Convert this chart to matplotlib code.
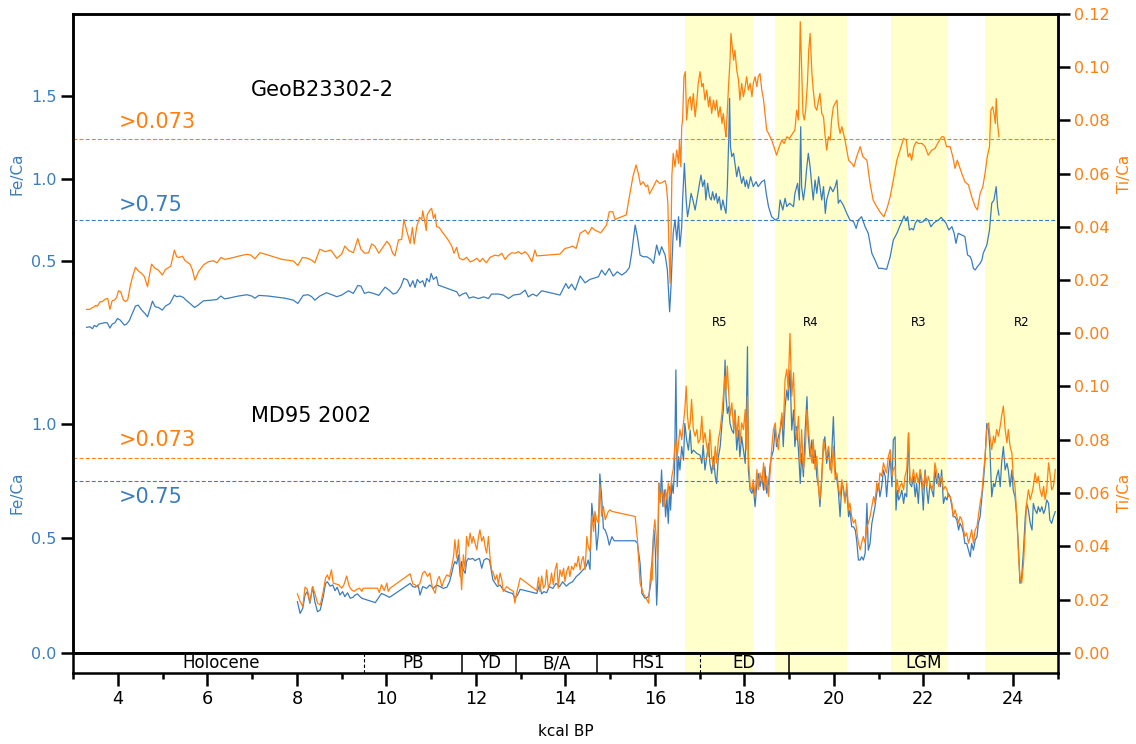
import matplotlib
matplotlib.use("Agg")
import matplotlib.pyplot as plt

plt.rcParams["font.family"] = "DejaVu Sans"

BLUE = "#3a7dbf"
ORANGE = "#ff7f0e"
YELLOW = "#ffffcc"

# ---- GeoB23302-2 (top panel) ----
geo_age_fe = [3.30, 3.37, 3.43, 3.47, 3.52, 3.57, 3.63, 3.69, 3.76, 3.82, 3.87, 3.93, 3.99, 4.05, 4.10,
              4.14, 4.19, 4.25, 4.32, 4.39, 4.45, 4.53, 4.60, 4.66, 4.72, 4.77, 4.83, 4.90, 4.99, 5.06,
              5.16, 5.26, 5.31, 5.38, 5.46, 5.52, 5.61, 5.71, 5.79, 5.91, 6.09, 6.21, 6.30, 6.38, 6.47,
              6.69, 6.88, 6.99, 7.06, 7.15, 7.36, 7.73, 7.92, 8.02, 8.07, 8.14, 8.25, 8.33, 8.40, 8.51,
              8.66, 8.78, 8.89, 9.00, 9.15, 9.26, 9.36, 9.43, 9.51, 9.60, 9.71, 9.83, 9.97, 10.06, 10.15,
              10.23, 10.32, 10.39, 10.47, 10.53, 10.59, 10.64, 10.69, 10.75, 10.81, 10.86, 10.90, 10.96,
              11.00, 11.05, 11.12, 11.16, 11.57, 11.63, 11.70, 11.78, 11.85, 11.94, 12.06, 12.17, 12.28,
              12.35, 12.50, 12.61, 12.73, 12.84, 12.99, 13.10, 13.17, 13.27, 13.36, 13.47, 13.66, 13.88,
              14.01, 14.07, 14.14, 14.22, 14.33, 14.44, 14.55, 14.74, 14.81, 14.89, 14.98, 15.07, 15.16,
              15.26, 15.36, 15.43, 15.48, 15.56, 15.61, 15.67, 15.74, 15.82, 15.91, 15.97, 16.04, 16.10,
              16.15, 16.23, 16.28, 16.33, 16.36, 16.41, 16.45, 16.49, 16.53, 16.56, 16.60, 16.62, 16.66,
              16.70, 16.73, 16.77, 16.81, 16.85, 16.90, 16.95, 16.99, 17.03, 17.07, 17.11, 17.14, 17.18,
              17.22, 17.26, 17.29, 17.33, 17.37, 17.40, 17.44, 17.48, 17.52, 17.55, 17.59, 17.62, 17.65,
              17.67, 17.69, 17.72, 17.76, 17.79, 17.83, 17.87, 17.90, 17.94, 17.98, 18.02, 18.05, 18.09,
              18.14, 18.20, 18.26, 18.31, 18.39, 18.45, 18.49, 18.54, 18.61, 18.69, 18.76, 18.80, 18.86,
              18.91, 18.95, 19.01, 19.10, 19.13, 19.19, 19.23, 19.26, 19.28, 19.32, 19.36, 19.39, 19.43,
              19.47, 19.51, 19.54, 19.58, 19.62, 19.66, 19.69, 19.73, 19.77, 19.81, 19.84, 19.88, 19.92,
              19.98, 20.03, 20.07, 20.10, 20.14, 20.21, 20.29, 20.36, 20.44, 20.50, 20.55, 20.62, 20.70,
              20.77, 20.85, 20.92, 21.00, 21.07, 21.18, 21.26, 21.33, 21.41, 21.47, 21.52, 21.57, 21.61,
              21.65, 21.69, 21.74, 21.78, 21.82, 21.87, 21.93, 22.00, 22.06, 22.11, 22.17, 22.23, 22.28,
              22.34, 22.40, 22.45, 22.51, 22.57, 22.64, 22.69, 22.73, 22.78, 22.86, 22.93, 22.99, 23.05,
              23.08, 23.12, 23.16, 23.21, 23.27, 23.31, 23.34, 23.42, 23.48, 23.53, 23.58, 23.63, 23.66,
              23.69]
geo_fe = [0.098, 0.102, 0.090, 0.110, 0.102, 0.118, 0.122, 0.126, 0.126, 0.094, 0.118, 0.126, 0.152, 0.142, 0.126,
          0.112, 0.118, 0.138, 0.183, 0.227, 0.233, 0.203, 0.183, 0.162, 0.213, 0.257, 0.223, 0.219, 0.203, 0.227,
          0.243, 0.294, 0.284, 0.288, 0.280, 0.263, 0.243, 0.219, 0.233, 0.259, 0.263, 0.267, 0.288, 0.271, 0.275,
          0.288, 0.296, 0.288, 0.275, 0.292, 0.288, 0.275, 0.263, 0.243, 0.263, 0.292, 0.296, 0.284, 0.263, 0.288,
          0.308, 0.296, 0.284, 0.294, 0.320, 0.304, 0.352, 0.348, 0.304, 0.312, 0.304, 0.292, 0.342, 0.324, 0.300,
          0.308, 0.344, 0.395, 0.385, 0.344, 0.381, 0.340, 0.389, 0.368, 0.381, 0.344, 0.395, 0.374,
          0.425, 0.389, 0.405, 0.354, 0.314, 0.288, 0.300, 0.308, 0.275, 0.283, 0.273, 0.283, 0.273,
          0.300, 0.300, 0.294, 0.273, 0.294, 0.300, 0.324, 0.283, 0.300, 0.288, 0.320, 0.308, 0.294,
          0.364, 0.334, 0.360, 0.324, 0.409, 0.368, 0.389, 0.405, 0.445, 0.415, 0.455, 0.409, 0.435,
          0.415, 0.435, 0.461, 0.546, 0.718, 0.647, 0.536, 0.526, 0.526, 0.510, 0.486, 0.597, 0.536,
          0.587, 0.536, 0.445, 0.193, 0.344, 0.668, 0.749, 0.627, 0.769, 0.587, 0.708, 0.870, 1.092,
          0.870, 0.769, 0.830, 0.910, 0.870, 0.809, 0.890, 0.951, 1.021, 0.951, 0.991, 0.870, 0.971,
          0.890, 0.870, 0.920, 0.870, 0.910, 0.850, 0.890, 0.809, 0.870, 0.830, 0.789, 0.951, 1.234,
          1.486, 1.193, 1.133, 1.153, 1.092, 1.011, 1.072, 1.031, 0.971, 1.011, 0.951, 0.991, 0.941,
          1.011, 0.951, 0.981, 0.951, 0.981, 0.991, 0.910, 0.830, 0.769, 0.749, 0.759, 0.870, 0.809,
          0.880, 0.830, 0.850, 0.830, 0.910, 0.971, 0.870, 1.314, 0.951, 0.870, 0.951, 1.052, 1.153,
          1.072, 0.951, 0.870, 0.991, 0.910, 1.011, 0.951, 0.870, 0.951, 0.789, 0.870, 0.910, 0.951,
          0.920, 0.951, 0.991, 0.850, 0.870, 0.840, 0.789, 0.749, 0.739, 0.698, 0.749, 0.769, 0.708,
          0.668, 0.547, 0.506, 0.456, 0.456, 0.450, 0.526, 0.627, 0.668, 0.708, 0.739, 0.773, 0.745,
          0.769, 0.688, 0.698, 0.688, 0.729, 0.749, 0.733, 0.739, 0.759, 0.749, 0.708, 0.729, 0.739,
          0.749, 0.765, 0.749, 0.729, 0.688, 0.708, 0.668, 0.607, 0.668, 0.658, 0.648, 0.537, 0.526,
          0.506, 0.456, 0.446, 0.466, 0.486, 0.506, 0.547, 0.597, 0.688, 0.850, 0.870, 0.951, 0.830,
          0.779]

geo_age_ti = [3.30, 3.37, 3.43, 3.47, 3.50, 3.54, 3.60, 3.65, 3.71, 3.77, 3.82, 3.87, 3.92, 3.97, 4.01,
              4.06, 4.12, 4.17, 4.22, 4.27, 4.32, 4.39, 4.47, 4.53, 4.59, 4.66, 4.71, 4.75, 4.83, 4.90,
              4.99, 5.06, 5.14, 5.18, 5.26, 5.31, 5.36, 5.44, 5.50, 5.61, 5.66, 5.72, 5.80, 5.91, 6.02,
              6.13, 6.21, 6.30, 6.39, 6.58, 6.69, 6.88, 6.97, 7.06, 7.17, 7.36, 7.66, 7.92, 8.02, 8.12,
              8.22, 8.33, 8.40, 8.51, 8.63, 8.76, 8.89, 9.00, 9.07, 9.16, 9.26, 9.36, 9.43, 9.51, 9.60,
              9.67, 9.74, 9.83, 9.93, 10.01, 10.08, 10.14, 10.19, 10.27, 10.34, 10.39, 10.45, 10.53,
              10.58, 10.62, 10.68, 10.74, 10.79, 10.81, 10.85, 10.89, 10.91, 10.97, 11.01, 11.05, 11.09,
              11.12, 11.18, 11.27, 11.38, 11.46, 11.51, 11.57, 11.63, 11.72, 11.79, 11.87, 11.94, 12.02,
              12.09, 12.15, 12.23, 12.32, 12.43, 12.50, 12.58, 12.65, 12.73, 12.80, 12.88, 12.95, 13.02,
              13.10, 13.17, 13.25, 13.32, 13.36, 13.58, 13.88, 13.99, 14.09, 14.16, 14.24, 14.33, 14.44,
              14.51, 14.59, 14.66, 14.79, 14.92, 14.98, 15.06, 15.11, 15.22, 15.36, 15.43, 15.51, 15.58,
              15.63, 15.68, 15.74, 15.80, 15.84, 15.88, 15.93, 16.04, 16.10, 16.15, 16.23, 16.26, 16.29,
              16.32, 16.34, 16.36, 16.38, 16.41, 16.45, 16.49, 16.53, 16.55, 16.58, 16.60, 16.62, 16.65,
              16.68, 16.71, 16.75, 16.79, 16.82, 16.86, 16.90, 16.94, 16.97, 17.01, 17.05, 17.08, 17.12,
              17.16, 17.20, 17.23, 17.27, 17.31, 17.35, 17.38, 17.42, 17.46, 17.50, 17.53, 17.57, 17.59,
              17.62, 17.65, 17.68, 17.70, 17.73, 17.76, 17.79, 17.83, 17.87, 17.90, 17.94, 17.98, 18.02,
              18.05, 18.09, 18.13, 18.17, 18.20, 18.24, 18.28, 18.31, 18.35, 18.39, 18.43, 18.46, 18.50,
              18.54, 18.61, 18.66, 18.72, 18.78, 18.84, 18.89, 18.95, 19.01, 19.08, 19.13, 19.17, 19.21,
              19.25, 19.28, 19.31, 19.34, 19.37, 19.41, 19.44, 19.47, 19.51, 19.54, 19.58, 19.62, 19.66,
              19.69, 19.73, 19.77, 19.80, 19.84, 19.88, 19.92, 19.95, 19.99, 20.03, 20.07, 20.10, 20.14,
              20.18, 20.25, 20.33, 20.40, 20.45, 20.51, 20.59, 20.65, 20.74, 20.81, 20.88, 20.96, 21.03,
              21.12, 21.20, 21.26, 21.33, 21.41, 21.48, 21.56, 21.62, 21.66, 21.70, 21.74, 21.79, 21.84,
              21.89, 21.97, 22.04, 22.11, 22.19, 22.26, 22.34, 22.41, 22.46, 22.52, 22.60, 22.66, 22.71,
              22.76, 22.81, 22.86, 22.93, 23.01, 23.08, 23.16, 23.21, 23.27, 23.33, 23.38, 23.43, 23.48,
              23.51, 23.55, 23.58, 23.61, 23.63, 23.66, 23.69]
geo_ti = [0.0089, 0.0089, 0.0096, 0.0099, 0.0104, 0.0101, 0.0118, 0.0118, 0.0127, 0.0130, 0.0089, 0.0122, 0.0124, 0.0134, 0.0159,
          0.0155, 0.0124, 0.0118, 0.0127, 0.0174, 0.0209, 0.0247, 0.0231, 0.0224, 0.0212, 0.0174, 0.0224, 0.0259, 0.0243, 0.0237,
          0.0218, 0.0239, 0.0247, 0.0252, 0.0312, 0.0287, 0.0284, 0.0289, 0.0272, 0.0259, 0.0239, 0.0199, 0.0231, 0.0256, 0.0268,
          0.0272, 0.0264, 0.0284, 0.0277, 0.0284, 0.0289, 0.0296, 0.0293, 0.0279, 0.0302, 0.0293, 0.0277, 0.0271, 0.0254, 0.0284,
          0.0282, 0.0274, 0.0264, 0.0315, 0.0306, 0.0312, 0.0281, 0.0297, 0.0327, 0.0310, 0.0302, 0.0355, 0.0315, 0.0300, 0.0302,
          0.0335, 0.0327, 0.0300, 0.0325, 0.0345, 0.0330, 0.0300, 0.0290, 0.0350, 0.0352, 0.0427, 0.0387, 0.0337,
          0.0397, 0.0335, 0.0402, 0.0435, 0.0427, 0.0460, 0.0425, 0.0385, 0.0444, 0.0462, 0.0469, 0.0431, 0.0447,
          0.0400, 0.0397, 0.0375, 0.0350, 0.0327, 0.0300, 0.0322, 0.0281, 0.0275, 0.0285, 0.0268, 0.0272, 0.0281,
          0.0268, 0.0281, 0.0264, 0.0285, 0.0293, 0.0290, 0.0300, 0.0277, 0.0293, 0.0302, 0.0300, 0.0306, 0.0297,
          0.0306, 0.0293, 0.0268, 0.0312, 0.0290, 0.0293, 0.0297, 0.0318, 0.0322, 0.0327, 0.0318, 0.0375, 0.0387,
          0.0372, 0.0397, 0.0387, 0.0377, 0.0406, 0.0456, 0.0456, 0.0427, 0.0435, 0.0444, 0.0513, 0.0588, 0.0632,
          0.0600, 0.0557, 0.0569, 0.0550, 0.0557, 0.0523, 0.0538, 0.0575, 0.0563, 0.0565, 0.0573, 0.0550, 0.0488,
          0.0287, 0.0187, 0.0350, 0.0590, 0.0676, 0.0625, 0.0688, 0.0638, 0.0726, 0.0625, 0.0776, 0.0801, 0.0964,
          0.0983, 0.0801, 0.0876, 0.0889, 0.0838, 0.0901, 0.0813, 0.0876, 0.0939, 0.0983, 0.0926, 0.0939, 0.0876,
          0.0914, 0.0851, 0.0889, 0.0826, 0.0876, 0.0838, 0.0876, 0.0813, 0.0851, 0.0788, 0.0826, 0.0763, 0.0738,
          0.0838, 0.0939, 0.1026, 0.1127, 0.1077, 0.1026, 0.1064, 0.0989, 0.0951, 0.0876, 0.0939, 0.0889, 0.0926,
          0.0964, 0.0914, 0.0939, 0.0889, 0.0939, 0.0964, 0.0926, 0.0964, 0.0976, 0.0914, 0.0876, 0.0826, 0.0763,
          0.0751, 0.0726, 0.0701, 0.0669, 0.0701, 0.0726, 0.0713, 0.0738, 0.0732, 0.0751, 0.0763, 0.0838, 0.0801,
          0.1171, 0.1001, 0.0826, 0.0801, 0.0838, 0.0939, 0.1064, 0.1127, 0.0976, 0.0914, 0.0851, 0.0838, 0.0876,
          0.0901, 0.0826, 0.0813, 0.0751, 0.0688, 0.0738, 0.0726, 0.0801, 0.0851, 0.0864, 0.0876, 0.0788, 0.0751,
          0.0776, 0.0726, 0.0650, 0.0638, 0.0625, 0.0663, 0.0701, 0.0663, 0.0650, 0.0563, 0.0500, 0.0475, 0.0456,
          0.0437, 0.0475, 0.0513, 0.0575, 0.0650, 0.0688, 0.0732, 0.0726, 0.0663, 0.0676, 0.0650, 0.0701, 0.0719,
          0.0713, 0.0713, 0.0701, 0.0669, 0.0688, 0.0694, 0.0719, 0.0738, 0.0738, 0.0701, 0.0701, 0.0663, 0.0619,
          0.0650, 0.0625, 0.0600, 0.0569, 0.0557, 0.0513, 0.0475, 0.0463, 0.0525, 0.0550, 0.0600, 0.0663, 0.0701,
          0.0838, 0.0851, 0.0826, 0.0788, 0.0882, 0.0788, 0.0738]

# ---- MD95 2002 (bottom panel) ----
md_age_fe = [8.01, 8.07, 8.13, 8.18, 8.23, 8.29, 8.35, 8.40, 8.46, 8.52, 8.58, 8.64, 8.68, 8.74, 8.80,
             8.85, 8.90, 8.96, 9.02, 9.07, 9.13, 9.19, 9.25, 9.30, 9.35, 9.41, 9.45, 9.75, 9.84, 9.89,
             9.97, 10.07, 10.53, 10.59, 10.64, 10.71, 10.75, 10.81, 10.90, 10.97, 11.05, 11.12, 11.20,
             11.27, 11.35, 11.41, 11.46, 11.50, 11.53, 11.57, 11.61, 11.65, 11.68, 11.72, 11.76, 11.79,
             11.83, 11.87, 11.93, 11.98, 12.03, 12.08, 12.13, 12.18, 12.24, 12.30, 12.33, 12.38, 12.43,
             12.48, 12.54, 12.61, 12.69, 12.76, 12.82, 12.87, 12.93, 12.99, 13.36, 13.42, 13.47, 13.52,
             13.58, 13.64, 13.72, 13.79, 13.87, 13.94, 14.02, 14.09, 14.16, 14.24, 14.31, 14.39, 14.46,
             14.51, 14.55, 14.59, 14.63, 14.66, 14.70, 14.74, 14.77, 14.81, 14.85, 14.89, 14.94, 14.98,
             15.04, 15.09, 15.56, 15.61, 15.67, 15.71, 15.78, 15.86, 15.91, 15.95, 15.98, 16.01, 16.04,
             16.06, 16.09, 16.12, 16.15, 16.18, 16.21, 16.24, 16.27, 16.30, 16.33, 16.35, 16.38, 16.41,
             16.44, 16.47, 16.50, 16.53, 16.56, 16.60, 16.64, 16.67, 16.71, 16.75, 16.79, 16.82, 16.86,
             16.94, 17.01, 17.05, 17.08, 17.12, 17.16, 17.20, 17.23, 17.27, 17.31, 17.35, 17.38, 17.42,
             17.46, 17.50, 17.53, 17.57, 17.59, 17.62, 17.65, 17.68, 17.72, 17.76, 17.79, 17.83, 17.87,
             17.90, 17.94, 17.98, 18.02, 18.04, 18.07, 18.09, 18.13, 18.17, 18.20, 18.24, 18.28, 18.31,
             18.35, 18.39, 18.43, 18.46, 18.50, 18.54, 18.58, 18.61, 18.65, 18.69, 18.72, 18.76, 18.80,
             18.84, 18.87, 18.91, 18.95, 18.98, 19.02, 19.06, 19.10, 19.13, 19.17, 19.21, 19.25, 19.28,
             19.32, 19.36, 19.40, 19.43, 19.47, 19.51, 19.54, 19.58, 19.62, 19.66, 19.69, 19.73, 19.77,
             19.80, 19.84, 19.88, 19.92, 19.95, 19.99, 20.03, 20.07, 20.10, 20.14, 20.18, 20.21, 20.25,
             20.29, 20.33, 20.36, 20.40, 20.44, 20.48, 20.51, 20.55, 20.59, 20.62, 20.66, 20.70, 20.74,
             20.77, 20.81, 20.85, 20.89, 20.92, 20.96, 21.00, 21.03, 21.07, 21.11, 21.15, 21.18, 21.22,
             21.26, 21.30, 21.33, 21.37, 21.39, 21.42, 21.45, 21.48, 21.52, 21.56, 21.59, 21.63, 21.67,
             21.70, 21.74, 21.78, 21.82, 21.85, 21.89, 21.93, 21.97, 22.00, 22.04, 22.08, 22.11, 22.15,
             22.19, 22.23, 22.26, 22.30, 22.34, 22.38, 22.41, 22.45, 22.49, 22.53, 22.56, 22.60, 22.64,
             22.67, 22.71, 22.75, 22.79, 22.82, 22.86, 22.90, 22.93, 22.97, 23.01, 23.05, 23.08, 23.12,
             23.16, 23.20, 23.23, 23.27, 23.31, 23.34, 23.38, 23.42, 23.46, 23.49, 23.53, 23.57, 23.60,
             23.64, 23.68, 23.72, 23.75, 23.79, 23.83, 23.87, 23.90, 23.94, 23.98, 24.01, 24.05, 24.09,
             24.13, 24.16, 24.20, 24.24, 24.28, 24.31, 24.35, 24.39, 24.43, 24.46, 24.50, 24.54, 24.57,
             24.61, 24.65, 24.69, 24.72, 24.76, 24.80, 24.83, 24.87, 24.91, 24.95]
md_fe = [0.224, 0.173, 0.195, 0.253, 0.268, 0.217, 0.290, 0.224, 0.180, 0.188, 0.239, 0.304, 0.311, 0.292, 0.297,
         0.272, 0.287, 0.253, 0.268, 0.246, 0.263, 0.239, 0.243, 0.253, 0.258, 0.246, 0.239, 0.220, 0.246, 0.260,
         0.253, 0.243, 0.304, 0.290, 0.287, 0.297, 0.253, 0.290, 0.282, 0.297, 0.282, 0.297, 0.290,
         0.282, 0.287, 0.311, 0.348, 0.384, 0.399, 0.389, 0.428, 0.333, 0.399, 0.362, 0.348, 0.399,
         0.413, 0.409, 0.413, 0.403, 0.409, 0.413, 0.370, 0.406, 0.413, 0.406, 0.377, 0.319, 0.304,
         0.290, 0.297, 0.275, 0.268, 0.263, 0.260, 0.239, 0.253, 0.278, 0.260, 0.297, 0.258, 0.268,
         0.263, 0.290, 0.282, 0.304, 0.290, 0.311, 0.292, 0.304, 0.311, 0.333, 0.345, 0.362, 0.377,
         0.406, 0.365, 0.653, 0.573, 0.595, 0.450, 0.530, 0.782, 0.683, 0.544, 0.537, 0.508, 0.471,
         0.508, 0.490, 0.490, 0.479, 0.391, 0.260, 0.239, 0.246, 0.304, 0.450, 0.537, 0.450, 0.209,
         0.304, 0.741, 0.668, 0.799, 0.639, 0.712, 0.595, 0.682, 0.566, 0.726, 0.624, 0.741, 0.697,
         0.799, 1.236, 0.726, 0.857, 0.799, 0.901, 0.842, 1.002, 0.930, 0.886, 0.973, 0.871, 0.886,
         0.871, 0.864, 0.828, 0.908, 0.799, 0.857, 0.915, 0.828, 0.784, 0.857, 0.770, 0.740, 0.857,
         0.901, 1.002, 1.061, 1.279, 1.119, 1.046, 1.075, 1.002, 0.973, 0.959, 1.061, 0.886, 0.973,
         0.857, 0.944, 0.886, 0.828, 0.973, 1.337, 0.799, 0.711, 0.697, 0.726, 0.639, 0.740, 0.784,
         0.726, 0.770, 0.711, 0.813, 0.697, 0.740, 0.828, 0.857, 0.886, 0.988, 0.901, 0.944, 0.973,
         1.032, 0.901, 1.075, 1.148, 1.104, 1.235, 0.973, 1.061, 0.901, 0.988, 0.886, 0.740, 0.871,
         0.770, 0.973, 1.119, 0.944, 0.857, 0.930, 0.828, 0.886, 0.770, 0.726, 0.639, 0.770, 0.915,
         0.944, 0.828, 0.886, 0.799, 0.857, 1.032, 0.799, 0.755, 0.711, 0.595, 0.740, 0.726, 0.668,
         0.711, 0.595, 0.624, 0.551, 0.551, 0.537, 0.493, 0.406, 0.406, 0.420, 0.406, 0.435, 0.653,
         0.449, 0.478, 0.566, 0.609, 0.639, 0.697, 0.740, 0.682, 0.726, 0.799, 0.770, 0.682, 0.784,
         0.857, 0.726, 0.930, 0.944, 0.624, 0.711, 0.668, 0.682, 0.711, 0.653, 0.697, 0.682, 0.959,
         0.740, 0.726, 0.770, 0.682, 0.740, 0.653, 0.799, 0.726, 0.624, 0.799, 0.711, 0.653, 0.740,
         0.711, 0.682, 0.799, 0.740, 0.784, 0.726, 0.799, 0.653, 0.682, 0.668, 0.697, 0.682, 0.639,
         0.595, 0.595, 0.580, 0.537, 0.566, 0.551, 0.522, 0.478, 0.478, 0.449, 0.420, 0.478, 0.449,
         0.493, 0.508, 0.566, 0.595, 0.682, 0.740, 0.842, 1.002, 0.973, 0.886, 0.682, 0.740, 0.726,
         0.770, 0.799, 0.726, 0.828, 0.901, 0.799, 0.828, 0.799, 0.726, 0.799, 0.711, 0.682, 0.595,
         0.449, 0.304, 0.333, 0.449, 0.595, 0.653, 0.624, 0.566, 0.537, 0.653, 0.624, 0.609, 0.639,
         0.617, 0.639, 0.609, 0.624, 0.668, 0.653, 0.580, 0.566, 0.595, 0.617]

md_age_ti = [8.01, 8.07, 8.13, 8.18, 8.23, 8.29, 8.35, 8.40, 8.46, 8.52, 8.58, 8.64, 8.68, 8.72, 8.77,
             8.81, 8.87, 8.93, 9.00, 9.05, 9.11, 9.17, 9.22, 9.28, 9.34, 9.40, 9.45, 9.48, 9.80, 9.84,
             9.89, 9.95, 10.01, 10.04, 10.08, 10.53, 10.59, 10.64, 10.69, 10.75, 10.81, 10.86, 10.92,
             10.97, 11.03, 11.09, 11.14, 11.18, 11.24, 11.29, 11.35, 11.41, 11.46, 11.50, 11.53, 11.57,
             11.61, 11.65, 11.68, 11.72, 11.76, 11.79, 11.83, 11.87, 11.91, 11.94, 11.98, 12.02, 12.06,
             12.09, 12.13, 12.17, 12.21, 12.24, 12.28, 12.32, 12.35, 12.39, 12.43, 12.47, 12.50, 12.54,
             12.58, 12.61, 12.69, 12.76, 12.84, 12.87, 12.91, 12.99, 13.36, 13.40, 13.43, 13.47, 13.51,
             13.55, 13.58, 13.62, 13.66, 13.69, 13.73, 13.77, 13.81, 13.84, 13.88, 13.92, 13.96, 13.99,
             14.03, 14.07, 14.10, 14.14, 14.18, 14.22, 14.25, 14.29, 14.33, 14.37, 14.40, 14.44, 14.48,
             14.51, 14.55, 14.59, 14.63, 14.66, 14.70, 14.74, 14.77, 14.81, 14.85, 14.89, 14.92, 14.96,
             15.00, 15.04, 15.56, 15.61, 15.67, 15.74, 15.86, 15.89, 15.92, 15.94, 15.97, 16.00, 16.03,
             16.06, 16.09, 16.12, 16.15, 16.18, 16.21, 16.24, 16.27, 16.30, 16.33, 16.35, 16.38, 16.41,
             16.44, 16.47, 16.50, 16.53, 16.56, 16.60, 16.64, 16.67, 16.70, 16.73, 16.76, 16.79, 16.82,
             16.86, 16.90, 16.94, 16.97, 17.01, 17.05, 17.08, 17.12, 17.16, 17.20, 17.23, 17.27, 17.31,
             17.35, 17.38, 17.42, 17.46, 17.50, 17.53, 17.57, 17.59, 17.62, 17.65, 17.68, 17.72, 17.76,
             17.79, 17.83, 17.87, 17.90, 17.94, 17.98, 18.02, 18.04, 18.07, 18.09, 18.13, 18.17, 18.20,
             18.24, 18.28, 18.31, 18.35, 18.39, 18.43, 18.46, 18.50, 18.54, 18.58, 18.61, 18.65, 18.69,
             18.72, 18.76, 18.80, 18.84, 18.87, 18.91, 18.95, 18.98, 19.02, 19.06, 19.10, 19.13, 19.17,
             19.21, 19.25, 19.28, 19.32, 19.36, 19.40, 19.43, 19.47, 19.51, 19.54, 19.58, 19.62, 19.66,
             19.69, 19.73, 19.77, 19.80, 19.84, 19.88, 19.92, 19.95, 19.99, 20.03, 20.07, 20.10, 20.14,
             20.18, 20.21, 20.25, 20.29, 20.33, 20.36, 20.40, 20.44, 20.48, 20.51, 20.55, 20.59, 20.62,
             20.66, 20.70, 20.74, 20.77, 20.81, 20.85, 20.89, 20.92, 20.96, 21.00, 21.03, 21.07, 21.11,
             21.15, 21.18, 21.22, 21.26, 21.30, 21.33, 21.37, 21.39, 21.42, 21.45, 21.48, 21.52, 21.56,
             21.59, 21.63, 21.67, 21.70, 21.74, 21.78, 21.82, 21.85, 21.89, 21.93, 21.97, 22.00, 22.04,
             22.08, 22.11, 22.15, 22.19, 22.23, 22.26, 22.30, 22.34, 22.38, 22.41, 22.45, 22.49, 22.53,
             22.56, 22.60, 22.64, 22.67, 22.71, 22.75, 22.79, 22.82, 22.86, 22.90, 22.93, 22.97, 23.01,
             23.05, 23.08, 23.12, 23.16, 23.20, 23.23, 23.27, 23.31, 23.34, 23.38, 23.42, 23.46, 23.49,
             23.53, 23.57, 23.60, 23.64, 23.68, 23.72, 23.75, 23.79, 23.83, 23.87, 23.90, 23.94, 23.98,
             24.01, 24.05, 24.09, 24.13, 24.16, 24.20, 24.24, 24.28, 24.31, 24.35, 24.39, 24.43, 24.46,
             24.50, 24.54, 24.57, 24.61, 24.65, 24.69, 24.72, 24.76, 24.80, 24.83, 24.87, 24.91, 24.95]
md_ti = [0.0222, 0.0193, 0.0174, 0.0247, 0.0239, 0.0193, 0.0249, 0.0224, 0.0187, 0.0180, 0.0224, 0.0281, 0.0293, 0.0274, 0.0312,
         0.0262, 0.0259, 0.0256, 0.0243, 0.0256, 0.0289, 0.0249, 0.0237, 0.0231, 0.0239, 0.0243, 0.0231, 0.0243, 0.0243, 0.0227,
         0.0256, 0.0234, 0.0262, 0.0231, 0.0243, 0.0297, 0.0259, 0.0256, 0.0247, 0.0262, 0.0300, 0.0306, 0.0287,
         0.0300, 0.0243, 0.0224, 0.0274, 0.0287, 0.0249, 0.0274, 0.0293, 0.0287, 0.0325, 0.0362, 0.0425, 0.0356,
         0.0425, 0.0325, 0.0237, 0.0368, 0.0312, 0.0437, 0.0400, 0.0450, 0.0412, 0.0437, 0.0412, 0.0387, 0.0437,
         0.0462, 0.0419, 0.0437, 0.0394, 0.0375, 0.0437, 0.0350, 0.0312, 0.0300, 0.0274, 0.0293, 0.0256, 0.0300,
         0.0274, 0.0231, 0.0249, 0.0239, 0.0231, 0.0187, 0.0224, 0.0281, 0.0234, 0.0284, 0.0231, 0.0289, 0.0243,
         0.0256, 0.0312, 0.0243, 0.0262, 0.0300, 0.0256, 0.0312, 0.0337, 0.0243, 0.0312, 0.0287, 0.0318, 0.0268,
         0.0306, 0.0325, 0.0287, 0.0325, 0.0312, 0.0337, 0.0325, 0.0362, 0.0312, 0.0350, 0.0362, 0.0312, 0.0437,
         0.0400, 0.0381, 0.0513, 0.0456, 0.0531, 0.0500, 0.0487, 0.0632, 0.0513, 0.0550, 0.0500, 0.0513, 0.0531,
         0.0537, 0.0531, 0.0512, 0.0425, 0.0262, 0.0224, 0.0187, 0.0262, 0.0324, 0.0274, 0.0450, 0.0500, 0.0437,
         0.0349, 0.0638, 0.0563, 0.0613, 0.0588, 0.0550, 0.0613, 0.0575, 0.0638, 0.0588, 0.0613, 0.0663, 0.0688,
         0.0763, 0.0801, 0.0738, 0.0788, 0.0838, 0.0800, 0.0863, 0.0913, 0.1001, 0.0888, 0.0838, 0.0863, 0.0951,
         0.0838, 0.0813, 0.0838, 0.0788, 0.0800, 0.0888, 0.0788, 0.0826, 0.0775, 0.0738, 0.0838, 0.0738, 0.0688,
         0.0775, 0.0713, 0.0800, 0.0838, 0.0901, 0.0963, 0.1039, 0.0988, 0.1076, 0.0976, 0.0888, 0.0938, 0.0838,
         0.0901, 0.0813, 0.0888, 0.0788, 0.0863, 0.0838, 0.0913, 0.0763, 0.0963, 0.0738, 0.0625, 0.0612, 0.0650,
         0.0587, 0.0688, 0.0612, 0.0675, 0.0638, 0.0713, 0.0612, 0.0663, 0.0587, 0.0688, 0.0763, 0.0838, 0.0863,
         0.0800, 0.0763, 0.0838, 0.0901, 0.0838, 0.1026, 0.1064, 0.0988, 0.1201, 0.0963, 0.1051, 0.0876, 0.0800,
         0.0888, 0.0713, 0.0838, 0.0688, 0.0750, 0.0913, 0.0838, 0.0775, 0.0713, 0.0800, 0.0688, 0.0738, 0.0612,
         0.0575, 0.0650, 0.0800, 0.0763, 0.0738, 0.0775, 0.0713, 0.0675, 0.0775, 0.0650, 0.0675, 0.0625, 0.0587,
         0.0650, 0.0612, 0.0562, 0.0638, 0.0537, 0.0562, 0.0512, 0.0487, 0.0500, 0.0462, 0.0412, 0.0387, 0.0412,
         0.0437, 0.0412, 0.0475, 0.0487, 0.0512, 0.0550, 0.0587, 0.0562, 0.0638, 0.0612, 0.0675, 0.0663, 0.0713,
         0.0688, 0.0675, 0.0738, 0.0763, 0.0663, 0.0688, 0.0700, 0.0612, 0.0650, 0.0600, 0.0625, 0.0638, 0.0612,
         0.0663, 0.0688, 0.0826, 0.0663, 0.0638, 0.0688, 0.0638, 0.0675, 0.0638, 0.0688, 0.0650, 0.0612, 0.0675,
         0.0625, 0.0663, 0.0638, 0.0612, 0.0638, 0.0713, 0.0675, 0.0625, 0.0650, 0.0663, 0.0612, 0.0625, 0.0612,
         0.0587, 0.0587, 0.0562, 0.0512, 0.0537, 0.0512, 0.0487, 0.0512, 0.0500, 0.0462, 0.0437, 0.0450, 0.0412,
         0.0437, 0.0462, 0.0412, 0.0462, 0.0475, 0.0512, 0.0562, 0.0600, 0.0663, 0.0738, 0.0838, 0.0863, 0.0813,
         0.0763, 0.0813, 0.0788, 0.0838, 0.0813, 0.0851, 0.0888, 0.0926, 0.0838, 0.0788, 0.0838, 0.0775, 0.0750,
         0.0663, 0.0625, 0.0512, 0.0362, 0.0287, 0.0262, 0.0337, 0.0462, 0.0562, 0.0612, 0.0575, 0.0600, 0.0625,
         0.0675, 0.0638, 0.0663, 0.0612, 0.0587, 0.0625, 0.0575, 0.0612, 0.0713, 0.0675, 0.0612, 0.0625, 0.0688]

# shaded intervals and their labels
r_spans = [(16.68, 18.20), (18.68, 20.30), (21.28, 22.52), (23.38, 25.0)]
r_names = ["R5", "R4", "R3", "R2"]

# chronozones along the bottom strip
zone_edges = [9.5, 11.7, 12.9, 14.7, 17.0, 19.0]
zone_dashed = [True, False, False, False, True, False]
zone_names = ["Holocene", "PB", "YD", "B/A", "HS1", "ED", "LGM"]
zone_mid = [6.3, 10.6, 12.3, 13.8, 15.85, 18.0, 22.0]

fe_thr = 0.75
ti_thr = 0.073

SPW = 1.8
fig = plt.figure(figsize=(11.36, 7.44), dpi=100)
L, W = 0.0645, 0.8664
ax1 = fig.add_axes([L, 0.5524, W, 0.4288])
ax2 = fig.add_axes([L, 0.1223, W, 0.4301])
ax3 = fig.add_axes([L, 0.0954, W, 0.0269])
ax1r = ax1.twinx()
ax2r = ax2.twinx()

for ax in (ax1, ax2, ax3):
    ax.set_xlim(3, 25)
    for a, b in r_spans:
        ax.axvspan(a, b, color=YELLOW, lw=0, zorder=0)

# top panel
ax1.plot(geo_age_fe, geo_fe, color=BLUE, lw=0.9)
ax1r.plot(geo_age_ti, geo_ti, color=ORANGE, lw=0.9)
ax1.axhline(fe_thr, color=BLUE, ls=(0, (3.5, 2)), lw=0.8)
ax1r.axhline(ti_thr, color=ORANGE, ls=(0, (3.5, 2)), lw=0.8)
ax1.set_ylim(0.064, 1.997)
ax1r.set_ylim(0, 0.12)
ax1.set_yticks([0.5, 1.0, 1.5])
ax1r.set_yticks([0, 0.02, 0.04, 0.06, 0.08, 0.10, 0.12])
ax1.text(4.02, 1.342, ">0.073", color=ORANGE, fontsize=15, va="center")
ax1.text(4.02, 0.839, ">0.75", color=BLUE, fontsize=15, va="center")
ax1.text(6.98, 1.536, "GeoB23302-2", color="black", fontsize=15, va="center")
for (a, b), name in zip(r_spans, r_names):
    ax1.text((a + b) / 2, 0.13, name, ha="center", va="center", fontsize=8.5)

# bottom panel
ax2.plot(md_age_fe, md_fe, color=BLUE, lw=0.9)
ax2r.plot(md_age_ti, md_ti, color=ORANGE, lw=0.9)
ax2.axhline(fe_thr, color=BLUE, ls=(0, (3.5, 2)), lw=0.8)
ax2r.axhline(ti_thr, color=ORANGE, ls=(0, (3.5, 2)), lw=0.8)
ax2.set_ylim(0, 1.397)
ax2r.set_ylim(0, 0.12)
ax2.set_yticks([0.0, 0.5, 1.0])
ax2r.set_yticks([0, 0.02, 0.04, 0.06, 0.08, 0.10])
ax2.text(4.02, 0.930, ">0.073", color=ORANGE, fontsize=15, va="center")
ax2.text(4.02, 0.681, ">0.75", color=BLUE, fontsize=15, va="center")
ax2.text(6.98, 1.035, "MD95 2002", color="black", fontsize=15, va="center")

for ax, ylab in ((ax1, "Fe/Ca"), (ax2, "Fe/Ca")):
    ax.set_ylabel(ylab, color=BLUE, fontsize=11, labelpad=5)
    ax.tick_params(axis="y", colors="black", labelcolor=BLUE, length=8.5, width=SPW,
                   labelsize=11.5, pad=3.5)
    ax.tick_params(axis="x", bottom=False, labelbottom=False)
for ax in (ax1r, ax2r):
    ax.set_ylabel("Ti/Ca", color=ORANGE, fontsize=11, labelpad=5)
    ax.tick_params(axis="y", colors="black", labelcolor=ORANGE, length=8.5, width=SPW,
                   labelsize=11.5, pad=3.5)
    ax.yaxis.set_major_formatter(matplotlib.ticker.FormatStrFormatter("%.2f"))

for ax in (ax1, ax1r):
    ax.spines["bottom"].set_visible(False)
for ax in (ax2, ax2r):
    ax.spines["top"].set_visible(False)
for ax in (ax1, ax1r, ax2, ax2r, ax3):
    for s in ax.spines.values():
        s.set_linewidth(SPW)

# chronozone strip
ax3.set_ylim(0, 1)
ax3.set_yticks([])
for x, dashed in zip(zone_edges, zone_dashed):
    ax3.axvline(x, color="black", lw=0.8 if dashed else 1.1, ls=(0, (3, 2)) if dashed else "-")
for x, name in zip(zone_mid, zone_names):
    ax3.text(x, 0.5, name, ha="center", va="center", fontsize=12)
ax3.set_xticks(range(4, 25, 2))
ax3.set_xticks(range(3, 26, 2), minor=True)
ax3.tick_params(axis="x", which="major", length=9, width=SPW, labelsize=12.7, pad=3)
ax3.tick_params(axis="x", which="minor", length=4.5, width=SPW)
ax3.set_xlabel("kcal BP", fontsize=11, labelpad=12)

fig.savefig("out.png", dpi=100)
